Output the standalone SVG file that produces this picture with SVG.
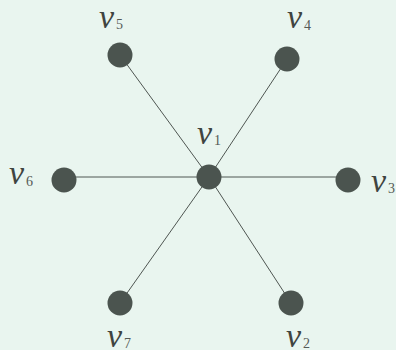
<svg xmlns="http://www.w3.org/2000/svg" width="396" height="350" viewBox="0 0 396 350">
<style>
.node{fill:#4b544f}
.edge{stroke:#4f5652;stroke-width:1}
.lbl{font-family:"Liberation Serif","Times New Roman",serif;font-style:italic;font-size:34px;fill:#3f4440}
.sub{font-style:normal;font-size:14px;fill:#555a56}
</style>
<rect width="396" height="350" fill="#e9f5ef"/>
<g id="connectors">
<line class="edge" x1="209" y1="177" x2="120" y2="55"/>
<line class="edge" x1="209" y1="177" x2="287" y2="59"/>
<line class="edge" x1="209" y1="177" x2="64" y2="177"/>
<line class="edge" x1="209" y1="177" x2="348" y2="177"/>
<line class="edge" x1="209" y1="177" x2="120" y2="303"/>
<line class="edge" x1="209" y1="177" x2="291" y2="303"/>
</g>
<g id="v1"><circle class="node" cx="209" cy="177" r="12.5"/><text class="lbl" x="197" y="144">v<tspan class="sub" dx="2" dy="1">1</tspan></text></g>
<g id="v2"><circle class="node" cx="291" cy="303" r="12.5"/><text class="lbl" x="286" y="347">v<tspan class="sub" dx="2" dy="1">2</tspan></text></g>
<g id="v3"><circle class="node" cx="348" cy="180" r="12.5"/><text class="lbl" x="371" y="192">v<tspan class="sub" dx="2" dy="1">3</tspan></text></g>
<g id="v4"><circle class="node" cx="287" cy="59" r="12.5"/><text class="lbl" x="287" y="28">v<tspan class="sub" dx="2" dy="2">4</tspan></text></g>
<g id="v5"><circle class="node" cx="120" cy="55" r="12.5"/><text class="lbl" x="99" y="28">v<tspan class="sub" dx="2" dy="1">5</tspan></text></g>
<g id="v6"><circle class="node" cx="64" cy="180" r="12.5"/><text class="lbl" x="9" y="184">v<tspan class="sub" dx="2" dy="2">6</tspan></text></g>
<g id="v7"><circle class="node" cx="120" cy="303" r="12.5"/><text class="lbl" x="107" y="347">v<tspan class="sub" dx="2" dy="1">7</tspan></text></g>
</svg>
